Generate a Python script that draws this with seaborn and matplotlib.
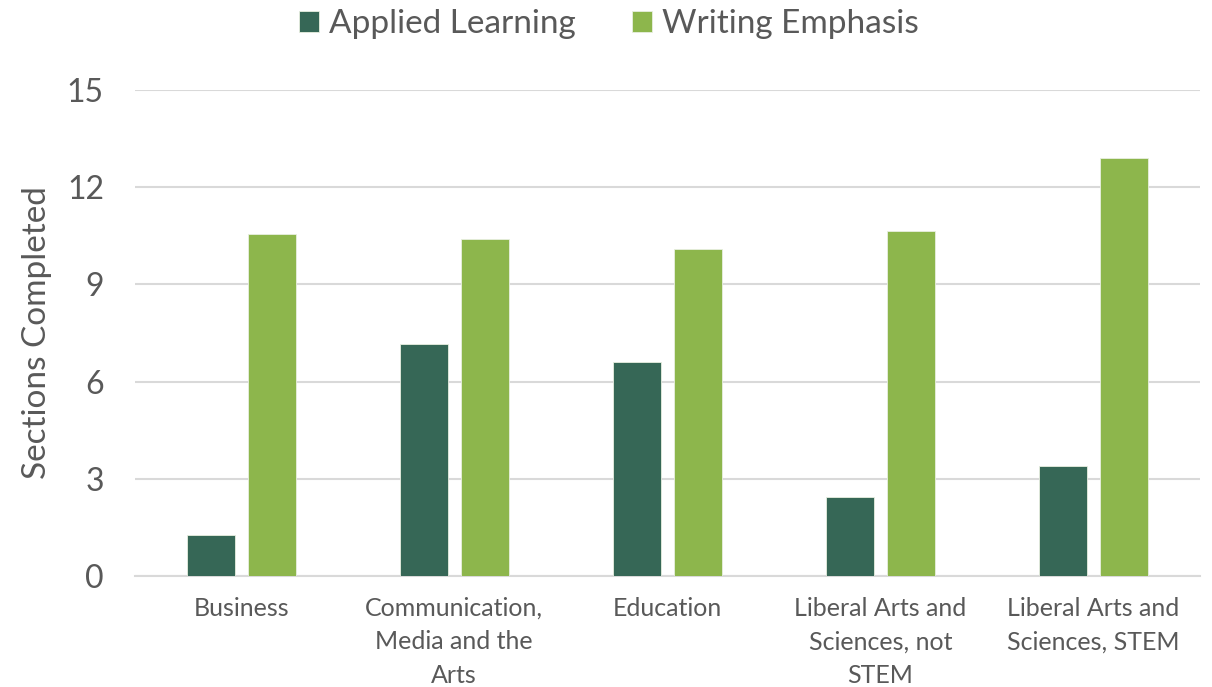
import pandas as pd
import matplotlib.pyplot as plt
import seaborn as sns

# Chart data
categories = ['Business', 'Communication, Media and the Arts', 'Education',
              'Liberal Arts and Sciences, not STEM', 'Liberal Arts and Sciences, STEM']
category_labels = ['Business', 'Communication,\nMedia and the\nArts', 'Education',
                   'Liberal Arts and\nSciences, not\nSTEM', 'Liberal Arts and\nSciences, STEM']
applied_learning = [1.28, 7.15, 6.60, 2.45, 3.40]
writing_emphasis = [10.55, 10.40, 10.10, 10.65, 12.90]
series_names = ['Applied Learning', 'Writing Emphasis']
y_ticks = [0, 3, 6, 9, 12, 15]


def bar_chart(df):
    '''
    Grouped bar chart of sections completed by college
    '''
    sns.set_style('white')
    plt.rcParams['font.family'] = ['Lato', 'DejaVu Sans']
    text_color = '#595959'

    fig = plt.figure(figsize=(12.12, 6.87), dpi=100)
    ax = fig.add_axes([0.111, 0.1616, 0.879, 0.7074])

    sns.barplot(data=df, x='college', y='sections', hue='series',
                palette=['#366756', '#8db64c'], saturation=1, width=0.573, gap=0.213,
                edgecolor='#e8efe0', linewidth=0.6, ax=ax, zorder=3)

    # Axis formatting
    ax.set_ylim(0, 15)
    ax.set_yticks(y_ticks)
    ax.set_xlim(-0.5, len(categories) - 0.5)
    ax.set_xticks(range(len(categories)))
    ax.set_xticklabels(category_labels, fontsize=18, color=text_color, linespacing=1.55,
                       verticalalignment='top')
    ax.tick_params(axis='y', length=0, pad=22, labelsize=23, labelcolor=text_color)
    ax.tick_params(axis='x', length=0, pad=15)
    ax.yaxis.grid(True, color='#d9d9d9', linewidth=1.5, zorder=0)
    ax.set_axisbelow(True)
    for side in ['top', 'right', 'left']:
        ax.spines[side].set_visible(False)
    ax.spines['bottom'].set_color('#d9d9d9')
    ax.spines['bottom'].set_linewidth(1.5)

    ax.set_xlabel('')
    ax.set_ylabel('Sections Completed', fontsize=24, color=text_color)
    ax.yaxis.set_label_coords(-0.0775, 0.5)

    # Legend on top
    ax.legend(loc='center', bbox_to_anchor=(0.445, 1.136), ncol=2, frameon=False,
              fontsize=24, labelcolor=text_color, handlelength=0.6, handleheight=0.6,
              handletextpad=0.3, columnspacing=1.7)

    fig.savefig('out.png', dpi=100)


if __name__ == "__main__":
    rows = []
    for cat, al, we in zip(categories, applied_learning, writing_emphasis):
        rows.append({'college': cat, 'series': series_names[0], 'sections': al})
        rows.append({'college': cat, 'series': series_names[1], 'sections': we})
    df = pd.DataFrame(rows)
    bar_chart(df)
